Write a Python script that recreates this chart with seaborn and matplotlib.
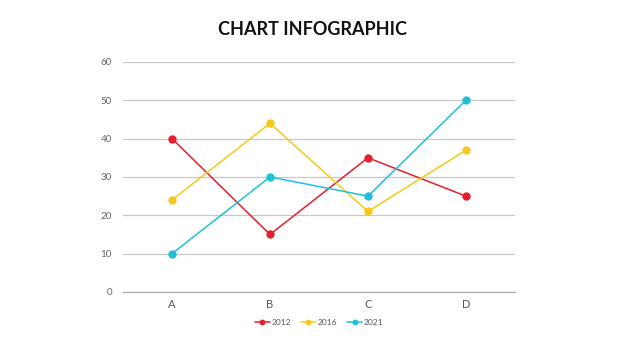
import pandas as pd
import seaborn as sns
import matplotlib.pyplot as plt
from matplotlib.ticker import FixedLocator

categories = ['A', 'B', 'C', 'D']
values_2012 = [40, 15, 35, 25]
values_2016 = [24, 44, 21, 37]
values_2021 = [10, 30, 25, 50]

years = ['2012', '2016', '2021']
colors = ['#E81E2B', '#F5C919', '#1DC2DA']


def chart_infographic():
    df = pd.DataFrame({
        'category': categories * 3,
        'value': values_2012 + values_2016 + values_2021,
        'year': [y for y in years for _ in categories],
    })

    sns.set_style('white')
    plt.rcParams['font.family'] = ['Lato', 'DejaVu Sans']

    fig = plt.figure(figsize=(6.26, 3.52), dpi=100)
    ax = fig.add_axes([0.1965, 0.1705, 0.626, 0.6535])

    sns.lineplot(data=df, x='category', y='value', hue='year', palette=colors,
                 marker='o', markersize=6, markeredgewidth=0, linewidth=1.1,
                 errorbar=None, sort=False, ax=ax)

    ax.set_xlim(-0.5, 3.5)
    ax.set_ylim(0, 60)
    ax.set_yticks(range(0, 61, 10))
    ax.yaxis.grid(True, color='#c8c8c8', linewidth=0.9)
    ax.set_axisbelow(True)
    ax.xaxis.set_minor_locator(FixedLocator([0.5, 1.5, 2.5]))
    ax.tick_params(axis='x', which='major', length=0, labelsize=8, labelcolor='#555555', pad=5)
    ax.tick_params(axis='x', which='minor', length=3, color='#aaaaaa', width=0.8)
    ax.tick_params(axis='y', length=0, labelsize=7, labelcolor='#666666', pad=8)
    ax.set_xlabel('')
    ax.set_ylabel('')

    sns.despine(ax=ax, left=True)
    ax.spines['bottom'].set_color('#aaaaaa')
    ax.spines['bottom'].set_linewidth(0.9)

    ax.legend(loc='upper center', bbox_to_anchor=(0.5, -0.085), ncol=3, frameon=False,
              fontsize=6, markerscale=0.7, handlelength=1.8, handletextpad=0.2,
              columnspacing=1.2, labelcolor='#555555')

    fig.text(0.5, 0.915, 'CHART INFOGRAPHIC', ha='center', va='center',
             fontsize=13, fontweight='bold', color='#111111')

    fig.savefig('out.png', dpi=100)


def main():
    chart_infographic()


if (__name__ == '__main__'):
    main()
